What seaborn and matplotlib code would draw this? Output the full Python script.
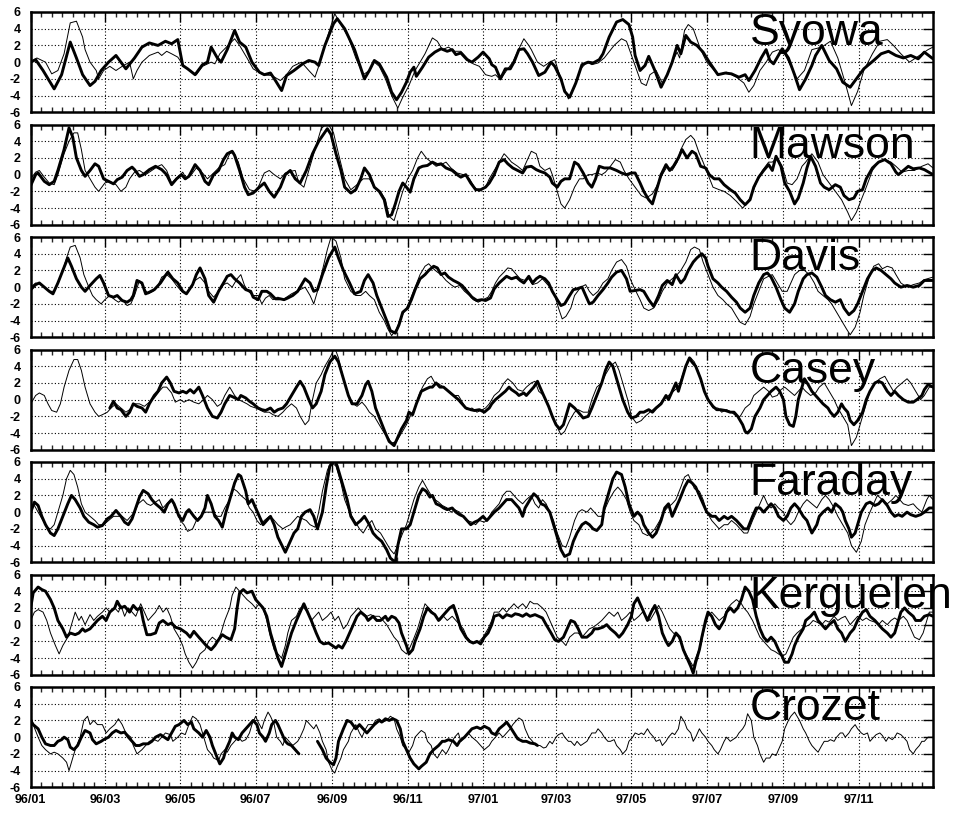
import datetime as dt
import pandas as pd
import matplotlib
matplotlib.use("Agg")
import matplotlib.pyplot as plt
import seaborn as sns

# stations, top to bottom
stations = ["Syowa", "Mawson", "Davis", "Casey", "Faraday", "Kerguelen", "Crozet"]

# x labels every second month
tick_labels = ["96/01", "96/03", "96/05", "96/07", "96/09", "96/11",
               "97/01", "97/03", "97/05", "97/07", "97/09", "97/11"]
y_ticks = [-6, -4, -2, 0, 2, 4, 6]

# (day since 1996-01-01, value)
syowa_thin = [(0,0.0),(5,0.5),(12,0.0),(17,-1.4),(22,-1.0),(27,1.0),(32,4.7),(37,4.9),(42,3.0),(44,1.5),(48,0.0),(53,-1.0),(55,-2.0),(59,-1.0),(64,-0.5),(69,-1.0),(74,-0.5),(80,0.0),(83,-2.0),(86,-1.0),(90,0.0),(96,0.8),(103,1.2),(106,0.8),(110,1.3),(114,1.0),(119,0.6),(124,-0.5),(129,-1.0),(134,-1.5),(139,-0.5),(146,0.0),(149,-0.2),(153,1.0),(165,2.8),(169,2.0),(175,0.5),(180,-0.8),(188,-1.5),(195,-1.6),(202,-2.2),(207,-1.5),(212,-0.5),(219,0.0),(225,-1.0),(230,-1.8),(233,-0.5),(240,3.0),(246,5.8),(249,5.0),(257,3.0),(263,0.5),(269,-1.5),(274,-1.0),(278,0.0),(282,-0.5),(287,-2.0),(292,-4.0),(297,-5.5),(301,-4.2),(306,-2.8),(311,-1.0),(319,1.0),(325,2.9),(329,2.5),(333,1.5),(338,1.8),(343,1.3),(348,1.3),(353,0.5),(358,-0.2),(363,-0.5),(368,-1.5),(373,-1.7),(376,-1.5),(380,-2.1),(385,-1.0),(390,0.0),(395,1.6),(399,2.8),(403,2.0),(405,1.5),(410,0.0),(415,-0.5),(420,0.0),(424,0.3),(430,-2.5),(435,-4.4),(440,-3.0),(445,-0.8),(450,0.0),(454,-0.3),(459,-0.1),(464,0.5),(472,2.0),(478,2.8),(482,2.5),(488,0.0),(494,-2.5),(498,-2.8),(501,-1.5),(506,-1.0),(511,-2.5),(515,-1.5),(519,0.0),(523,1.2),(525,0.5),(529,3.8),(532,4.5),(536,4.0),(542,1.5),(547,0.0),(556,-1.5),(563,-1.2),(571,-1.8),(577,-2.5),(581,-3.6),(585,-2.8),(590,-1.0),(595,0.0),(600,1.2),(605,1.5),(610,1.0),(615,-0.5),(620,-2.0),(626,-1.0),(632,1.5),(640,1.8),(647,2.5),(653,0.5),(659,-2.5),(664,-5.2),(669,-3.5),(674,-1.0),(681,1.0),(687,2.5),(693,2.7),(698,2.0),(704,1.0),(711,0.0),(716,0.5),(721,1.0),(726,1.5),(730,1.8)]
syowa_thick = [(0,0.0),(4,0.3),(10,-1.0),(19,-3.2),(25,-1.5),(32,2.4),(37,0.5),(42,-1.5),(48,-2.8),(52,-2.3),(57,-1.0),(63,0.0),(69,0.8),(77,-0.8),(84,0.5),(90,1.8),(96,2.3),(103,2.0),(109,2.5),(114,2.2),(119,2.7),(123,-0.4),(127,-0.8),(133,-1.5),(139,-0.3),(143,0.0),(146,1.8),(151,0.5),(154,0.0),(159,1.5),(165,3.8),(169,2.4),(174,1.8),(179,0.0),(185,-1.2),(189,-1.5),(194,-1.3),(198,-2.2),(203,-3.4),(207,-1.6),(213,-1.0),(220,-0.2),(225,0.2),(230,0.0),(233,-0.4),(238,2.0),(245,4.6),(248,5.2),(254,4.0),(262,1.5),(267,-0.7),(270,-2.0),(274,-1.0),(278,0.2),(282,-0.2),(288,-1.8),(292,-3.6),(296,-4.5),(300,-3.6),(304,-2.4),(307,-1.2),(310,-0.6),(312,-1.7),(317,-0.6),(322,0.6),(327,1.2),(332,1.6),(337,1.3),(341,1.5),(344,0.9),(348,1.1),(353,0.3),(357,0.0),(362,0.6),(366,1.2),(371,0.4),(373,-0.3),(376,-0.6),(380,-2.0),(384,-0.8),(388,-0.8),(391,0.0),(395,1.5),(399,1.6),(402,1.0),(406,0.0),(411,-1.6),(416,-1.2),(421,0.0),(424,-0.5),(429,-2.0),(432,-3.5),(436,-4.2),(441,-2.5),(446,-0.3),(451,0.0),(455,-0.1),(460,0.3),(463,1.0),(468,3.0),(474,4.8),(479,5.1),(484,4.5),(487,3.0),(489,0.8),(493,-1.0),(497,-0.4),(500,0.7),(505,-1.0),(510,-3.0),(515,-1.5),(519,0.0),(523,2.0),(526,1.0),(530,3.2),(534,2.4),(539,2.0),(544,1.2),(549,0.0),(556,-1.5),(562,-1.3),(567,-1.4),(573,-1.8),(578,-1.5),(581,-2.2),(586,-1.0),(591,0.5),(595,1.5),(598,0.2),(601,-0.2),(608,1.6),(613,0.5),(618,-1.5),(622,-3.3),(627,-2.0),(632,-0.4),(635,0.8),(640,2.0),(646,0.2),(652,-0.8),(657,-2.4),(663,-3.0),(668,-2.0),(674,-0.8),(682,0.2),(688,1.0),(694,1.3),(700,0.8),(706,0.5),(712,0.8),(718,0.4),(723,1.2),(730,0.4)]

mawson_thin = [(0,-0.5),(4,0.3),(7,0.5),(11,-0.3),(15,-1.0),(19,-1.2),(22,0.0),(27,2.5),(31,4.0),(35,5.0),(38,5.0),(41,3.0),(44,0.5),(48,-0.5),(52,-1.5),(55,-2.0),(60,-1.0),(64,-0.8),(69,-1.2),(73,-2.0),(77,-1.5),(80,-0.5),(84,0.3),(88,0.5),(93,0.0),(98,0.5),(103,1.0),(106,1.2),(110,0.5),(114,-1.0),(119,-0.3),(123,0.3),(126,-0.5),(130,0.0),(134,0.8),(139,0.2),(143,-0.5),(148,0.2),(152,0.8),(157,1.2),(161,2.5),(164,2.7),(168,1.5),(172,-0.5),(177,-1.8),(182,-2.0),(185,-1.2),(189,0.2),(193,0.5),(197,0.0),(202,-0.5),(206,0.2),(210,0.4),(214,0.5),(217,-1.0),(221,-1.5),(225,0.5),(230,3.0),(235,5.5),(240,6.2),(245,5.0),(249,2.5),(254,-0.5),(259,-1.8),(264,-1.2),(269,-0.5),(274,-0.5),(278,-1.5),(283,-2.0),(287,-3.0),(290,-5.0),(294,-5.5),(297,-4.0),(301,-2.0),(305,-0.5),(309,0.5),(313,2.0),(316,2.8),(320,2.0),(324,1.5),(328,1.0),(332,1.2),(336,1.5),(340,0.8),(345,0.2),(350,0.0),(355,-0.5),(359,-1.5),(363,-2.0),(368,-1.5),(371,-0.5),(375,0.5),(379,1.5),(383,2.5),(385,2.2),(389,1.5),(394,1.0),(398,0.5),(401,1.5),(405,2.8),(409,2.5),(412,1.0),(416,0.5),(420,0.8),(422,0.0),(426,-2.0),(429,-3.5),(432,-4.0),(436,-3.0),(440,-1.5),(444,-0.5),(447,-0.5),(451,0.0),(454,0.0),(458,0.2),(462,0.0),(465,0.3),(469,1.0),(473,1.8),(477,1.5),(480,0.5),(484,-0.5),(489,-1.5),(494,-2.5),(498,-2.8),(503,-2.3),(506,-1.5),(511,0.0),(515,1.0),(519,0.5),(523,1.5),(526,3.0),(530,4.2),(534,4.7),(537,4.2),(541,2.5),(544,1.5),(548,0.0),(552,-1.5),(557,-1.8),(561,-2.0),(566,-2.5),(571,-3.2),(576,-4.0),(579,-3.5),(583,-2.5),(587,-1.0),(592,0.5),(597,1.5),(600,1.5),(604,2.0),(608,1.0),(612,-1.0),(616,-1.2),(620,-0.5),(624,1.0),(627,1.5),(632,2.5),(637,1.5),(641,0.0),(646,-1.0),(651,-2.0),(656,-3.0),(661,-4.5),(664,-5.5),(668,-4.5),(672,-3.0),(676,-1.5),(681,0.5),(686,1.5),(691,1.8),(696,1.5),(700,1.0),(705,0.3),(710,0.5),(715,0.5),(721,1.0),(726,1.3),(730,0.8)]
mawson_thick = [(0,-1.3),(4,0.0),(6,0.2),(11,-0.8),(15,-1.2),(19,-0.8),(22,0.5),(27,3.0),(31,5.6),(34,4.5),(37,2.0),(41,0.5),(44,-0.2),(48,0.5),(52,1.3),(55,1.0),(59,-0.5),(63,-0.8),(67,-1.1),(70,-0.6),(74,-0.3),(78,0.5),(82,0.9),(84,0.6),(88,-0.2),(91,0.0),(96,0.6),(101,1.0),(106,0.6),(110,0.0),(114,-1.2),(118,-0.5),(122,0.0),(125,-0.5),(128,-0.2),(133,1.2),(137,0.5),(141,-0.8),(144,-1.2),(148,0.0),(152,0.5),(156,1.8),(159,2.5),(163,2.8),(165,2.3),(169,0.5),(173,-1.5),(176,-2.4),(180,-2.2),(185,-1.5),(189,-1.0),(193,-2.0),(197,-2.7),(202,-1.5),(206,0.0),(210,0.5),(214,-0.5),(218,-1.0),(223,0.5),(228,2.5),(233,4.0),(240,5.5),(243,4.8),(247,2.5),(251,0.5),(254,-1.5),(259,-2.2),(263,-1.8),(267,-0.5),(270,0.8),(274,0.0),(278,-1.5),(282,-2.0),(286,-3.0),(289,-5.0),(292,-4.8),(295,-3.5),(298,-2.0),(301,-1.0),(304,-1.5),(307,-2.1),(310,-0.5),(314,0.8),(317,1.0),(321,1.1),(325,1.5),(329,1.2),(332,1.3),(336,0.8),(341,0.5),(345,0.0),(348,-0.3),(352,0.0),(356,-1.0),(360,-1.8),(364,-1.8),(368,-1.5),(371,-1.0),(375,0.0),(379,1.5),(383,1.8),(386,1.3),(390,0.8),(394,0.5),(398,0.2),(401,0.9),(405,1.0),(409,0.6),(412,0.4),(416,0.2),(420,-0.3),(422,-1.0),(426,-1.5),(429,-0.8),(432,-0.5),(436,-0.5),(440,1.5),(443,1.2),(447,0.2),(451,-1.0),(454,-1.5),(457,-0.5),(460,1.0),(464,0.8),(469,0.8),(474,0.5),(478,0.2),(482,0.0),(486,0.2),(489,0.2),(493,-1.0),(496,-2.0),(500,-3.0),(503,-3.5),(506,-2.0),(510,0.0),(514,1.2),(517,0.5),(520,1.0),(524,2.0),(527,3.0),(531,2.0),(535,2.8),(538,2.5),(542,1.0),(546,0.8),(549,0.0),(553,-0.5),(557,-0.5),(561,-1.2),(566,-1.8),(570,-2.2),(574,-3.0),(578,-3.6),(582,-3.0),(585,-1.5),(589,-0.3),(593,0.5),(597,1.2),(600,0.5),(603,2.2),(607,1.0),(610,-1.0),(614,-2.0),(618,-3.5),(621,-2.8),(625,-1.0),(628,0.8),(631,2.2),(635,1.0),(639,-1.0),(642,-1.5),(646,-1.8),(651,-1.2),(655,-1.5),(658,-2.5),(662,-3.0),(666,-2.8),(669,-2.0),(673,-1.8),(676,-0.5),(681,0.8),(686,1.5),(691,1.8),(696,1.3),(700,0.3),(702,0.0),(706,0.5),(710,1.0),(714,0.7),(719,0.8),(723,0.6),(730,0.0)]

davis_thin = [(0,0.0),(4,0.5),(7,0.4),(11,0.0),(15,-0.5),(19,-0.5),(22,0.5),(26,2.0),(29,3.5),(32,4.8),(36,5.0),(40,3.5),(43,1.5),(47,0.0),(50,-1.0),(53,-1.5),(57,-2.0),(60,-1.5),(64,-1.0),(68,-1.5),(71,-1.8),(74,-1.5),(78,-2.2),(81,-2.0),(84,-1.0),(88,0.8),(91,0.0),(95,-0.8),(99,-0.5),(103,0.2),(106,1.2),(110,1.5),(114,1.0),(118,0.2),(122,-0.5),(126,-0.8),(130,0.0),(133,0.8),(137,1.2),(141,0.5),(144,-0.5),(148,-1.2),(152,-0.5),(156,0.3),(159,0.5),(163,0.0),(167,1.0),(170,1.5),(173,0.2),(176,-0.5),(180,-1.0),(184,-1.0),(187,-2.0),(190,-1.3),(193,-1.0),(196,-1.5),(200,-1.2),(204,-1.5),(207,-1.2),(211,-0.8),(215,-0.5),(218,-0.3),(222,0.0),(226,-1.0),(229,-2.0),(232,-0.5),(236,2.0),(240,4.5),(243,6.0),(247,5.5),(251,3.5),(254,1.0),(259,-0.5),(263,-1.0),(267,-1.0),(271,-0.5),(274,-1.0),(278,-1.5),(282,-3.0),(286,-4.0),(289,-5.0),(292,-5.8),(296,-5.0),(300,-3.5),(304,-2.5),(307,-1.5),(311,0.0),(315,1.5),(319,2.5),(322,2.8),(325,2.3),(329,1.8),(332,1.5),(336,0.8),(340,0.3),(343,0.0),(347,0.2),(351,-0.5),(355,-1.0),(358,-1.5),(362,-1.8),(366,-1.5),(370,-1.2),(373,-0.5),(376,0.5),(379,1.2),(383,1.8),(386,2.3),(389,2.2),(393,1.5),(396,1.0),(400,0.8),(403,1.0),(406,0.3),(410,0.5),(414,1.0),(417,0.5),(420,0.0),(424,-1.0),(427,-2.5),(430,-3.8),(433,-3.5),(437,-2.5),(440,-1.0),(445,0.0),(449,0.3),(452,-0.5),(455,-1.0),(459,-0.5),(463,0.5),(467,1.0),(470,2.0),(474,3.0),(478,3.3),(482,2.5),(485,1.0),(489,-0.3),(493,-1.5),(496,-2.5),(500,-2.8),(504,-2.5),(508,-1.5),(511,-0.5),(515,0.5),(519,1.0),(523,1.5),(526,2.0),(530,3.0),(534,4.5),(537,4.8),(541,4.5),(544,3.0),(548,1.5),(552,0.0),(556,-1.0),(560,-1.5),(563,-2.0),(567,-2.5),(571,-3.5),(574,-4.2),(578,-4.5),(582,-3.5),(585,-2.0),(589,-0.5),(593,1.0),(597,1.3),(600,1.5),(604,0.5),(608,-0.5),(612,-0.5),(615,0.5),(618,1.5),(622,2.0),(626,2.0),(630,1.5),(634,0.5),(637,-0.5),(641,-1.0),(645,-1.5),(648,-2.0),(652,-3.0),(656,-4.0),(660,-5.0),(663,-5.7),(667,-4.8),(671,-3.0),(674,-1.0),(678,1.0),(682,2.5),(686,2.8),(689,2.2),(693,2.5),(697,2.3),(700,1.5),(704,0.5),(709,0.0),(714,0.3),(719,0.5),(723,0.9),(730,1.2)]
davis_thick = [(0,-0.3),(4,0.3),(7,0.5),(11,0.0),(15,-0.5),(18,-0.8),(22,0.5),(26,2.0),(30,3.5),(33,2.5),(37,1.0),(41,0.0),(44,-0.5),(48,0.2),(53,1.0),(56,1.4),(59,0.5),(63,-1.0),(67,-1.2),(70,-1.0),(74,-1.6),(78,-1.8),(81,-1.5),(83,-1.0),(86,0.8),(90,0.5),(93,-0.8),(96,-0.6),(100,-0.3),(105,0.5),(109,1.4),(111,1.8),(115,1.0),(119,0.5),(123,-0.5),(126,-0.8),(131,0.3),(134,1.5),(137,2.3),(141,1.0),(144,-1.0),(148,-1.8),(152,-0.5),(156,0.5),(159,1.3),(162,1.5),(165,1.0),(169,0.5),(172,0.0),(174,-0.3),(178,-0.5),(180,-1.2),(184,-1.5),(187,-0.5),(191,-0.5),(194,-0.8),(198,-1.4),(202,-1.4),(205,-1.5),(208,-1.3),(212,-1.0),(216,-0.5),(220,0.5),(222,1.0),(226,0.5),(229,-0.5),(232,-0.3),(236,1.5),(241,3.5),(246,4.8),(249,3.5),(253,2.0),(258,0.5),(262,-0.8),(267,-0.5),(270,0.8),(273,1.5),(277,0.5),(280,-1.0),(284,-2.5),(288,-4.0),(291,-5.2),(295,-5.5),(298,-4.5),(301,-3.0),(305,-2.5),(308,-1.5),(311,-0.3),(315,1.0),(319,1.5),(322,2.0),(326,2.5),(329,2.3),(332,1.5),(335,1.7),(338,1.2),(342,0.8),(346,0.5),(349,0.2),(353,-0.5),(357,-1.2),(361,-1.6),(365,-1.5),(368,-1.6),(372,-1.3),(375,-0.2),(379,0.5),(382,0.9),(385,1.3),(389,1.0),(393,1.2),(396,0.8),(399,0.5),(403,1.3),(406,0.5),(409,1.0),(412,1.3),(416,1.0),(419,0.5),(422,-0.5),(426,-1.5),(429,-2.2),(432,-2.0),(436,-1.0),(439,-0.3),(442,-0.2),(446,0.0),(449,-1.0),(452,-2.0),(455,-1.8),(459,-1.0),(463,-0.3),(467,0.5),(470,1.2),(474,1.8),(478,2.0),(482,1.0),(485,-0.5),(489,-0.4),(493,-0.3),(496,-0.5),(500,-1.5),(504,-2.3),(508,-1.0),(511,0.2),(515,0.8),(519,0.3),(522,1.5),(526,0.5),(529,1.0),(532,2.0),(536,3.0),(539,3.5),(543,4.0),(546,3.5),(548,2.5),(552,1.0),(556,0.5),(559,0.0),(563,-0.5),(567,-1.2),(571,-1.8),(574,-2.5),(578,-3.0),(582,-2.5),(585,-1.0),(589,0.5),(593,1.5),(596,1.7),(599,1.2),(603,0.0),(607,-1.5),(610,-2.5),(614,-3.0),(618,-2.0),(621,-0.5),(625,1.0),(628,1.5),(632,1.7),(636,1.2),(640,0.0),(643,-1.0),(647,-1.5),(651,-1.8),(655,-1.5),(658,-2.5),(662,-3.3),(666,-2.8),(669,-2.0),(673,-0.5),(677,1.0),(681,2.0),(684,2.3),(688,2.0),(692,1.5),(696,1.0),(699,0.5),(704,0.0),(709,0.2),(714,0.0),(719,0.2),(723,0.8),(730,0.8)]

casey_thin = [(0,-0.5),(4,0.5),(7,0.8),(11,0.5),(14,-0.5),(17,-1.3),(21,-1.5),(24,-0.5),(27,1.5),(31,3.5),(35,4.8),(38,4.8),(41,3.5),(44,1.5),(48,-0.5),(52,-1.5),(55,-2.0),(58,-1.8),(62,-1.5),(65,-1.0),(69,-0.5),(73,-1.0),(77,-1.5),(80,-1.2),(84,-0.5),(88,-0.5),(92,-0.8),(96,-0.3),(100,0.2),(104,1.0),(107,1.5),(110,1.5),(114,0.8),(117,-0.3),(121,0.0),(124,-0.3),(128,0.0),(132,-0.3),(136,-0.5),(140,0.0),(143,0.5),(147,0.0),(151,-0.8),(154,-0.5),(157,0.5),(161,1.5),(163,1.0),(165,0.5),(168,0.0),(171,-0.2),(175,-0.5),(178,-0.8),(182,-1.0),(185,-1.2),(189,-1.5),(193,-1.5),(196,-1.8),(200,-2.0),(204,-1.5),(207,-1.0),(211,-0.5),(215,-1.0),(218,-2.0),(222,-3.0),(225,-2.5),(228,0.0),(231,2.0),(235,3.0),(238,4.0),(242,5.0),(246,6.2),(249,5.0),(253,2.5),(257,0.5),(261,-0.5),(264,-0.8),(268,-0.3),(271,-0.8),(274,-1.5),(278,-2.0),(282,-3.0),(286,-4.0),(289,-4.5),(292,-5.2),(296,-5.0),(300,-4.0),(304,-3.0),(307,-2.0),(311,-1.0),(314,0.5),(317,1.5),(321,2.5),(324,2.8),(327,2.0),(331,1.8),(334,1.5),(338,1.0),(342,0.5),(346,0.5),(350,-0.5),(353,-1.2),(357,-1.0),(361,-1.5),(364,-1.3),(368,-1.0),(371,-0.5),(375,0.5),(379,1.0),(383,2.0),(386,2.5),(390,2.0),(394,1.2),(398,1.0),(401,1.5),(405,2.0),(408,2.2),(411,1.0),(415,0.5),(418,-0.5),(421,-1.5),(425,-3.0),(429,-4.2),(432,-3.8),(436,-2.5),(440,-1.5),(443,-1.2),(447,-1.5),(451,-1.5),(454,0.0),(458,1.5),(462,2.0),(465,3.0),(469,4.0),(473,4.5),(476,3.5),(479,2.0),(483,0.0),(486,-2.0),(490,-2.8),(494,-2.5),(497,-2.0),(501,-1.5),(505,-1.0),(509,-0.5),(512,0.0),(516,0.5),(520,1.0),(524,1.5),(527,2.8),(531,4.5),(534,5.0),(537,4.5),(541,3.0),(544,1.5),(548,0.0),(552,-1.0),(556,-1.0),(559,-1.5),(563,-1.2),(567,-1.5),(571,-2.0),(574,-2.0),(578,-1.0),(582,-0.5),(585,0.5),(589,1.0),(593,1.5),(597,1.0),(600,0.3),(604,0.5),(607,1.2),(610,1.5),(614,1.0),(618,0.5),(621,1.0),(624,1.5),(627,1.0),(631,0.5),(635,0.8),(638,1.5),(642,2.0),(646,1.0),(650,0.0),(653,-1.0),(657,-2.0),(661,-3.0),(664,-5.5),(668,-4.5),(672,-2.5),(676,-0.5),(679,1.0),(683,2.0),(687,2.5),(691,2.8),(694,2.0),(698,1.0),(701,1.5),(705,2.0),(709,2.5),(712,2.0),(716,1.0),(720,0.0),(723,0.5),(727,1.5),(730,1.5)]
casey_thick = [(64,-1.0),(67,-0.2),(70,-1.0),(73,-1.2),(77,-2.0),(80,-1.5),(83,-0.5),(86,-0.8),(90,-1.0),(93,-1.5),(96,-0.5),(100,0.5),(103,1.0),(106,2.0),(110,2.7),(113,2.0),(116,1.0),(120,0.8),(123,1.0),(126,0.8),(129,1.2),(132,0.8),(136,1.5),(139,0.5),(143,-1.0),(147,-2.0),(151,-2.2),(154,-1.5),(157,-0.5),(161,0.5),(164,0.3),(168,0.0),(170,0.5),(174,0.2),(177,-0.2),(180,-0.5),(184,-1.0),(187,-1.2),(190,-1.3),(194,-1.0),(197,-1.5),(200,-1.2),(204,-1.0),(207,-0.5),(211,0.5),(215,1.5),(218,2.2),(221,1.5),(225,0.0),(228,-1.0),(231,-0.5),(235,1.0),(238,3.0),(242,4.5),(246,5.2),(249,4.5),(253,2.5),(257,0.5),(260,-0.5),(264,-0.5),(268,0.5),(271,1.8),(273,2.2),(276,1.0),(279,-1.0),(283,-2.5),(287,-4.0),(290,-5.0),(294,-5.5),(297,-4.5),(300,-3.5),(304,-2.5),(306,-1.5),(309,-1.8),(312,-0.5),(316,1.0),(320,1.3),(323,1.5),(325,1.5),(328,2.0),(331,1.5),(334,1.5),(338,1.0),(342,0.5),(346,0.0),(349,-0.5),(352,-1.0),(356,-1.2),(359,-1.3),(363,-1.2),(367,-1.5),(371,-1.0),(373,-0.5),(376,0.0),(380,0.5),(384,1.0),(387,1.5),(389,1.2),(393,0.8),(395,0.5),(399,0.8),(401,0.5),(404,1.0),(407,1.5),(410,2.2),(412,1.5),(415,0.5),(419,-0.8),(422,-2.0),(425,-3.0),(428,-3.5),(431,-3.0),(434,-1.5),(436,-0.5),(440,-1.0),(443,-1.5),(447,-2.2),(451,-2.0),(454,-1.0),(458,0.5),(462,2.0),(465,3.5),(468,4.5),(471,4.0),(473,3.0),(476,1.5),(479,0.0),(483,-1.5),(486,-2.2),(490,-2.0),(493,-1.5),(496,-1.5),(500,-1.2),(503,-1.5),(506,-1.0),(510,-0.5),(514,0.5),(516,0.0),(519,1.0),(522,2.0),(524,1.0),(526,2.0),(530,4.0),(533,5.0),(535,4.5),(538,4.0),(542,2.5),(545,1.0),(548,0.0),(552,-0.8),(555,-1.2),(558,-1.2),(562,-1.3),(566,-1.5),(569,-1.5),(572,-2.0),(576,-3.0),(578,-3.8),(580,-4.0),(583,-3.5),(586,-2.0),(590,-1.0),(593,0.0),(596,0.5),(599,1.0),(603,1.5),(606,1.0),(609,0.0),(611,-2.0),(614,-3.0),(617,-3.2),(619,-2.0),(621,0.0),(624,1.5),(626,2.5),(629,1.8),(632,1.0),(635,0.5),(638,0.0),(641,-0.5),(645,-1.0),(647,-1.5),(650,-2.0),(653,-1.5),(656,-0.5),(658,-1.0),(661,-1.5),(663,-2.5),(666,-3.0),(669,-2.5),(673,-1.5),(676,0.0),(679,1.0),(683,2.0),(686,2.2),(689,2.0),(693,1.0),(696,0.5),(699,1.0),(702,0.5),(706,0.0),(710,-0.3),(714,-0.3),(717,0.0),(721,0.5),(723,1.2),(726,1.8),(730,1.5)]

faraday_thin = [(0,0.5),(3,0.8),(6,0.0),(10,-1.0),(13,-1.8),(16,-2.0),(19,-1.5),(22,0.0),(26,2.0),(29,4.0),(32,5.0),(35,4.5),(38,3.0),(41,1.0),(44,0.0),(48,-0.5),(52,-1.0),(55,-1.5),(59,-1.5),(63,-1.0),(67,-0.5),(70,-0.5),(74,-0.5),(78,-1.0),(81,-0.5),(84,0.0),(87,1.0),(91,1.5),(94,1.0),(97,0.8),(101,1.2),(104,1.5),(107,0.5),(110,1.0),(114,1.5),(117,0.5),(121,-1.0),(124,-1.5),(127,-2.3),(131,-2.0),(134,-1.0),(137,-0.5),(141,0.0),(144,0.0),(147,0.0),(151,-0.5),(154,-0.5),(157,0.5),(161,1.5),(164,2.8),(167,2.5),(170,2.0),(174,1.5),(177,0.5),(180,0.0),(183,-1.0),(186,-1.5),(189,-1.0),(193,-0.5),(196,-0.8),(200,-1.5),(204,-2.0),(206,-1.8),(210,-1.5),(213,-1.0),(216,-0.5),(220,-0.8),(223,-1.0),(226,-1.5),(230,-1.8),(233,0.0),(236,2.5),(240,5.0),(243,6.0),(247,5.5),(251,3.5),(254,1.5),(258,0.0),(262,-1.0),(266,-2.0),(269,-2.5),(273,-1.5),(276,-1.0),(279,-2.0),(283,-2.5),(287,-3.5),(291,-4.5),(294,-5.0),(297,-4.0),(301,-2.5),(304,-1.5),(307,0.0),(310,1.5),(314,3.0),(317,3.8),(320,3.0),(324,2.0),(327,1.5),(330,1.2),(333,0.8),(337,0.5),(340,0.0),(343,0.3),(347,0.0),(350,-0.5),(353,-1.0),(357,-1.2),(360,-1.5),(363,-1.0),(367,-1.2),(370,-0.8),(373,0.0),(376,0.5),(379,1.0),(382,2.0),(385,2.5),(388,2.5),(391,2.0),(394,1.5),(398,1.0),(401,1.5),(405,2.0),(408,1.0),(411,0.5),(414,1.5),(417,1.0),(420,0.0),(423,-1.0),(426,-2.5),(430,-4.0),(433,-4.2),(436,-3.0),(440,-1.0),(443,0.0),(446,0.3),(450,0.0),(453,0.5),(456,0.0),(459,-0.5),(462,-0.5),(465,0.5),(468,1.5),(472,2.5),(475,3.0),(478,2.5),(482,1.5),(485,0.0),(488,-1.0),(492,-1.5),(495,-2.5),(499,-2.8),(502,-2.5),(505,-2.0),(509,-1.0),(512,0.0),(515,0.5),(519,1.0),(522,1.5),(526,3.0),(529,4.2),(532,4.5),(535,3.5),(537,2.8),(541,2.5),(544,1.5),(547,0.0),(551,-1.0),(554,-1.5),(557,-2.0),(561,-1.5),(564,-1.5),(567,-1.0),(571,-1.5),(574,-2.0),(577,-2.5),(580,-2.5),(584,-1.0),(587,0.0),(590,1.0),(593,2.0),(596,1.0),(599,0.5),(602,1.0),(605,0.5),(609,0.0),(612,-1.0),(615,-1.5),(618,-1.0),(621,0.0),(625,1.0),(628,1.5),(632,1.0),(636,0.5),(640,1.5),(643,2.0),(646,1.5),(650,0.5),(653,-0.5),(657,-1.5),(661,-2.5),(664,-4.0),(668,-4.8),(672,-3.5),(675,-1.5),(679,0.0),(682,1.0),(685,2.0),(689,1.5),(693,1.0),(697,1.5),(700,2.0),(703,1.5),(706,1.0),(710,0.8),(714,1.0),(717,0.5),(721,0.0),(725,1.5),(727,2.0),(730,1.5)]
faraday_thick = [(0,0.0),(3,1.2),(6,0.8),(9,-0.5),(12,-1.5),(16,-2.5),(19,-2.8),(22,-2.0),(26,-0.5),(30,1.0),(33,2.0),(36,1.5),(40,0.5),(43,-0.5),(47,-1.2),(51,-1.5),(54,-1.8),(58,-1.6),(62,-0.8),(65,-0.5),(69,0.2),(73,-0.5),(76,-1.2),(79,-1.5),(82,-0.8),(85,0.5),(88,1.8),(91,2.6),(95,2.2),(98,1.5),(101,1.0),(105,0.5),(108,0.0),(111,1.0),(114,1.5),(116,1.0),(120,-0.5),(123,-1.0),(126,0.0),(128,0.3),(132,-0.5),(135,-1.0),(138,-0.5),(141,0.5),(143,2.0),(146,1.0),(149,-0.5),(152,-1.0),(155,-1.8),(158,0.0),(162,2.0),(165,3.5),(168,4.5),(170,4.3),(174,2.5),(176,1.0),(179,1.5),(182,0.5),(185,-0.5),(188,-1.5),(191,-1.0),(194,-0.5),(197,-1.5),(200,-3.0),(204,-4.2),(206,-4.8),(210,-3.5),(213,-2.5),(216,-2.0),(219,-0.5),(222,0.0),(226,0.3),(229,-0.5),(232,-2.0),(236,0.0),(239,3.0),(242,5.5),(246,6.2),(248,5.5),(252,3.5),(256,1.5),(259,-0.5),(263,-1.5),(267,-1.0),(270,-0.5),(274,-1.5),(277,-2.5),(280,-3.0),(284,-3.5),(288,-4.5),(291,-5.5),(295,-6.0),(297,-4.0),(300,-2.0),(304,-2.0),(307,-1.5),(310,0.0),(314,2.0),(317,2.8),(320,2.5),(323,1.8),(325,2.0),(328,1.0),(331,0.8),(334,0.5),(337,0.3),(341,0.5),(344,0.0),(347,-0.3),(350,-0.5),(353,-1.0),(356,-1.5),(359,-1.2),(362,-1.0),(366,-0.5),(369,-1.0),(372,-0.5),(375,0.0),(379,0.5),(382,1.0),(385,1.5),(389,1.5),(392,1.0),(395,0.5),(398,-0.5),(400,0.5),(404,1.5),(407,2.2),(410,1.8),(413,1.0),(416,0.8),(420,0.0),(423,-1.5),(426,-3.0),(429,-4.5),(432,-5.3),(436,-5.0),(439,-3.5),(442,-2.5),(446,-1.5),(449,-1.2),(452,-1.5),(455,-2.0),(458,-2.2),(462,-1.5),(464,0.5),(468,2.5),(471,4.0),(474,4.8),(478,4.5),(481,3.0),(484,1.0),(488,-0.5),(491,0.0),(494,-0.5),(496,-1.5),(500,-2.5),(503,-3.0),(506,-2.5),(510,-1.0),(513,0.5),(516,1.0),(519,-0.5),(522,0.5),(525,1.5),(529,3.0),(532,3.8),(535,3.5),(538,3.0),(541,2.0),(544,1.0),(547,0.0),(551,-0.5),(554,-0.5),(557,-1.0),(561,-0.5),(564,-0.8),(567,-0.5),(571,-1.0),(574,-1.5),(577,-2.0),(580,-2.0),(584,-0.5),(587,0.5),(590,0.5),(593,0.0),(596,0.5),(599,1.0),(602,0.5),(605,-0.5),(609,-1.0),(612,-0.5),(615,0.5),(618,1.0),(621,0.5),(625,-0.5),(628,-1.0),(632,-2.5),(636,-1.5),(638,-0.5),(641,0.0),(645,0.5),(648,0.0),(651,1.0),(655,0.5),(657,0.0),(659,-1.0),(662,-2.0),(664,-3.0),(667,-2.5),(669,-1.5),(672,0.0),(676,1.0),(679,1.2),(683,0.8),(686,1.0),(689,1.5),(693,0.8),(696,0.0),(699,-0.5),(702,-0.3),(705,-0.5),(709,0.0),(712,-0.3),(716,-0.5),(720,-0.3),(723,0.0),(727,0.5),(730,0.5)]

kerguelen_thin = [(0,0.5),(3,1.5),(6,1.8),(10,1.5),(13,0.5),(16,-1.0),(20,-2.5),(23,-3.5),(26,-2.5),(30,-1.5),(33,0.0),(36,1.5),(39,0.5),(41,1.0),(44,0.0),(48,1.2),(51,0.5),(54,1.0),(58,1.5),(61,2.0),(64,1.5),(68,2.0),(71,1.5),(73,2.3),(76,1.0),(79,2.0),(82,1.5),(85,1.0),(89,2.5),(92,1.5),(95,0.5),(98,1.0),(101,1.5),(104,2.3),(107,1.5),(110,2.0),(113,1.0),(116,-0.5),(120,-1.5),(123,-2.5),(125,-3.5),(128,-4.5),(131,-5.2),(134,-4.5),(137,-3.5),(141,-3.0),(144,-2.0),(147,-1.5),(151,-2.0),(154,-1.0),(157,0.5),(161,2.0),(163,3.5),(166,4.5),(169,4.0),(172,3.5),(175,3.0),(179,2.5),(182,2.0),(185,2.5),(188,2.0),(191,0.5),(194,-1.5),(197,-3.0),(200,-3.5),(203,-4.0),(206,-2.5),(208,-1.0),(211,0.5),(215,1.0),(218,2.0),(221,2.0),(224,1.5),(227,0.5),(230,1.0),(233,1.5),(236,0.5),(240,1.0),(243,1.5),(246,0.5),(249,1.0),(253,-0.5),(256,0.0),(259,1.0),(262,1.5),(265,2.0),(268,1.5),(272,1.0),(275,1.2),(278,1.0),(282,1.0),(285,0.5),(288,0.0),(290,-0.5),(294,-1.5),(297,-2.0),(300,-3.0),(304,-3.5),(306,-3.0),(309,-2.0),(313,-0.5),(316,1.0),(319,2.5),(322,2.0),(325,1.5),(328,1.0),(331,0.5),(334,1.0),(337,0.5),(341,1.0),(344,0.5),(347,0.0),(350,-0.5),(353,-1.5),(356,-2.0),(360,-2.2),(363,-2.0),(366,-1.5),(370,-0.5),(373,0.5),(375,1.5),(379,1.5),(382,2.0),(385,1.5),(388,2.0),(391,2.5),(394,2.0),(398,2.5),(401,2.0),(404,2.8),(407,2.5),(410,2.5),(414,2.0),(417,1.5),(420,0.5),(423,-0.5),(426,-1.5),(430,-2.0),(433,-2.5),(436,-1.5),(440,-1.0),(443,-1.0),(446,-1.5),(449,-1.0),(452,-0.5),(455,-0.3),(458,0.0),(462,0.5),(465,1.0),(468,1.5),(472,1.0),(475,1.5),(478,0.5),(482,1.0),(485,1.5),(488,0.5),(492,1.0),(495,1.5),(498,1.0),(501,0.5),(505,1.5),(508,2.3),(511,1.5),(514,0.5),(517,-0.5),(520,-1.0),(524,-1.5),(527,-2.5),(530,-3.5),(534,-4.5),(536,-5.0),(538,-4.0),(542,-2.5),(545,-0.5),(548,1.0),(551,1.5),(554,1.0),(557,0.5),(561,1.0),(564,2.0),(567,2.5),(571,3.0),(575,2.5),(577,2.0),(580,1.5),(584,0.5),(587,-0.5),(590,-1.5),(593,-2.0),(596,-2.5),(599,-3.0),(602,-3.2),(605,-3.5),(608,-3.8),(611,-3.5),(614,-2.5),(617,-1.5),(620,-1.0),(624,-0.5),(626,-0.3),(630,0.0),(633,0.5),(636,0.3),(640,0.0),(643,0.5),(646,0.3),(650,1.0),(653,0.5),(656,0.8),(659,1.0),(663,0.0),(666,0.5),(669,1.0),(673,0.5),(676,0.8),(679,0.5),(683,0.3),(686,0.0),(689,0.5),(693,0.0),(696,0.5),(699,0.8),(702,0.5),(706,1.0),(709,0.5),(712,-0.5),(715,-1.5),(719,-1.8),(722,-1.0),(725,0.5),(727,1.5),(730,1.5)]
kerguelen_thick = [(0,2.0),(2,3.8),(6,4.5),(9,4.2),(12,4.0),(16,3.0),(19,2.0),(22,0.5),(26,-0.5),(29,-1.5),(32,-1.0),(36,-1.2),(39,-1.0),(42,-0.5),(44,-0.8),(48,-0.5),(51,0.0),(54,0.5),(58,1.0),(61,0.5),(64,1.5),(68,2.0),(70,2.8),(73,2.0),(76,2.2),(80,1.5),(83,2.3),(86,1.8),(89,2.0),(91,0.5),(94,-1.2),(97,-1.2),(101,-1.0),(104,0.2),(107,0.5),(111,0.0),(114,0.2),(117,-0.3),(121,-0.5),(124,-0.8),(126,-1.0),(129,-1.5),(132,-0.8),(136,-1.5),(139,-2.0),(142,-2.5),(146,-3.0),(149,-2.5),(152,-1.8),(155,-1.2),(158,-1.5),(162,-1.8),(165,-0.5),(167,2.0),(169,3.8),(172,4.2),(175,3.8),(179,4.0),(182,3.0),(185,2.5),(188,2.0),(191,1.0),(194,-1.0),(197,-2.5),(200,-4.0),(203,-5.0),(205,-4.0),(208,-2.5),(211,-1.0),(215,0.5),(218,1.5),(221,2.5),(224,1.5),(227,0.5),(231,-1.0),(234,-2.0),(237,-2.3),(241,-2.2),(244,-2.5),(247,-2.8),(249,-2.5),(252,-2.8),(255,-2.0),(258,-1.0),(261,0.0),(264,1.0),(267,1.5),(271,1.0),(273,0.5),(277,1.0),(280,0.5),(283,0.5),(287,1.0),(289,0.5),(292,1.0),(295,0.8),(298,0.2),(300,-1.0),(304,-2.5),(306,-3.5),(309,-3.0),(311,-2.0),(315,-0.5),(318,1.0),(321,2.0),(324,1.5),(327,1.2),(330,0.5),(333,1.0),(336,1.5),(339,2.0),(342,2.3),(345,1.0),(348,-0.5),(352,-1.5),(355,-2.0),(358,-2.2),(361,-2.0),(364,-2.3),(367,-1.5),(370,-1.0),(373,0.0),(375,1.0),(379,1.2),(382,0.8),(385,1.2),(389,1.0),(392,1.3),(395,1.2),(398,1.0),(401,1.3),(404,1.0),(408,1.2),(411,1.0),(414,0.8),(417,0.0),(421,-1.0),(424,-1.8),(427,-2.0),(431,-1.5),(434,-0.5),(437,0.5),(440,0.3),(443,-0.5),(446,-1.5),(450,-1.5),(454,-1.0),(456,-0.5),(459,-0.5),(463,-0.3),(466,0.0),(469,-0.5),(473,-1.0),(476,-1.5),(479,-1.0),(483,0.0),(486,1.0),(488,2.5),(491,3.2),(493,2.5),(496,1.5),(499,0.5),(502,1.5),(505,2.3),(508,1.0),(511,-1.0),(514,-2.0),(516,-2.5),(519,-2.0),(522,-1.0),(525,-1.5),(528,-3.0),(531,-4.0),(534,-5.0),(536,-5.8),(538,-4.5),(541,-3.0),(543,-1.5),(546,0.5),(548,1.5),(551,1.0),(554,0.0),(557,-0.5),(561,0.5),(563,1.5),(566,2.0),(569,1.5),(572,2.0),(575,3.0),(578,4.5),(581,4.0),(584,3.0),(587,1.0),(590,-0.5),(593,-1.5),(596,-2.0),(599,-1.5),(602,-2.0),(605,-3.0),(608,-3.8),(610,-4.5),(613,-4.5),(616,-3.5),(618,-2.5),(621,-1.5),(625,-0.5),(627,0.5),(631,1.0),(634,1.5),(637,0.5),(640,0.0),(643,-0.5),(646,0.0),(650,0.5),(653,-0.5),(656,-1.0),(659,-2.0),(663,-1.0),(666,-0.5),(669,0.5),(673,1.5),(676,1.8),(679,1.0),(683,0.5),(686,0.0),(689,-0.5),(693,-1.0),(696,-1.5),(699,-1.0),(701,0.0),(704,1.5),(707,2.0),(710,1.5),(714,1.0),(716,0.5),(720,0.5),(723,1.0),(727,1.2),(730,1.0)]

crozet_thin = [(0,2.5),(2,1.5),(6,0.0),(9,-1.0),(12,-1.5),(16,-2.0),(19,-1.8),(22,-2.0),(26,-2.5),(29,-3.0),(31,-4.0),(34,-2.5),(36,-1.5),(40,0.0),(43,2.0),(46,2.5),(48,1.5),(51,2.0),(54,1.5),(58,1.5),(61,0.5),(64,1.0),(68,1.5),(71,2.2),(74,1.5),(77,0.5),(81,0.0),(83,-1.0),(86,-2.0),(90,-1.5),(93,-1.0),(96,-0.5),(100,-0.3),(103,-0.5),(106,0.0),(109,0.5),(113,0.3),(115,-0.5),(119,0.0),(122,0.5),(125,0.3),(128,1.5),(131,2.5),(134,2.2),(137,1.5),(140,0.0),(143,-1.5),(146,-2.0),(148,-2.5),(152,-2.8),(154,-2.0),(157,-1.5),(159,-1.8),(162,-1.0),(165,-0.5),(168,0.0),(171,-0.5),(174,-0.3),(177,0.5),(179,1.5),(182,2.5),(184,1.8),(187,1.0),(189,2.0),(192,3.0),(194,2.5),(197,1.5),(199,0.0),(202,-0.5),(204,-1.0),(206,0.0),(209,-0.5),(212,-1.0),(216,-0.5),(218,0.0),(221,1.0),(223,2.0),(226,1.5),(229,1.0),(231,1.5),(234,0.5),(236,-0.5),(239,-1.5),(241,-3.0),(244,-4.0),(246,-4.3),(248,-3.5),(251,-2.5),(253,-1.5),(257,-0.5),(259,0.5),(263,1.5),(266,0.5),(268,0.0),(271,1.0),(273,1.5),(277,1.5),(279,2.0),(282,2.2),(285,1.8),(288,2.0),(291,2.5),(294,2.2),(296,1.0),(299,0.0),(301,-1.0),(304,-1.5),(306,-1.8),(309,-1.0),(311,0.0),(314,0.5),(316,0.8),(319,0.5),(321,-0.5),(324,-1.0),(326,-2.0),(329,-2.5),(331,-2.0),(333,-1.5),(336,-2.0),(338,-1.5),(341,-0.5),(343,0.0),(346,0.5),(348,-0.5),(351,0.0),(354,0.5),(357,0.0),(361,-0.5),(364,-1.0),(367,-1.5),(371,-1.0),(373,-0.5),(376,0.0),(379,0.5),(382,0.0),(385,0.5),(388,1.0),(390,1.5),(393,2.0),(395,2.3),(398,2.0),(400,1.0),(403,0.0),(406,-0.5),(409,-1.0),(412,-1.0),(415,-1.3),(417,-1.2),(420,-0.5),(422,-0.8),(425,0.0),(427,0.3),(430,0.5),(432,0.0),(435,-0.5),(437,-0.5),(440,-1.0),(442,-0.5),(445,-1.0),(447,-0.8),(450,-0.5),(452,0.0),(454,0.5),(457,0.5),(459,1.0),(462,0.5),(464,0.0),(467,-0.5),(469,-0.5),(472,-0.3),(474,-1.0),(477,-1.5),(479,-2.0),(482,-1.5),(484,-0.5),(487,0.0),(489,0.5),(492,0.3),(494,0.5),(496,0.3),(499,1.0),(501,0.5),(504,0.0),(506,-0.5),(509,-0.3),(511,-1.0),(514,-0.5),(516,0.0),(519,0.5),(521,0.3),(524,1.0),(526,2.5),(529,1.8),(531,1.0),(534,0.5),(536,-0.5),(538,0.0),(541,1.0),(543,0.5),(546,0.0),(548,-0.5),(551,-1.0),(553,-1.5),(556,-2.0),(558,-1.5),(561,-0.5),(563,0.0),(566,-0.5),(568,-0.3),(571,0.0),(573,0.5),(576,1.0),(578,1.5),(580,2.8),(583,2.0),(585,0.0),(588,-1.0),(590,-2.0),(593,-3.0),(595,-2.5),(598,-2.5),(600,-2.0),(603,-2.2),(605,-1.5),(608,-0.5),(610,1.0),(613,2.0),(615,2.5),(618,3.0),(620,2.5),(622,2.0),(625,1.0),(627,0.5),(630,-0.5),(632,-1.0),(635,-1.5),(637,-1.8),(640,-1.0),(642,-0.5),(645,-0.5),(647,-0.3),(650,-0.5),(652,0.0),(655,0.5),(657,0.5),(659,0.0),(662,0.5),(664,1.0),(667,1.5),(669,1.0),(672,0.5),(674,0.3),(677,0.5),(679,-0.5),(682,0.0),(684,0.3),(687,0.5),(689,0.2),(692,-0.5),(694,0.0),(697,-0.3),(699,0.0),(701,0.5),(704,0.3),(706,0.0),(709,-0.5),(711,-1.5),(714,-2.0),(716,-1.5),(719,-1.0),(721,-0.5),(723,-0.5),(726,0.0),(730,0.0)]
# the thick Crozet record has a gap in August 1996 and stops in February 1997
crozet_thick_a = [(0,2.0),(2,1.5),(6,1.0),(9,0.0),(12,-0.8),(16,-1.0),(19,-1.0),(22,-0.5),(25,-0.3),(27,0.0),(30,-0.3),(32,-1.2),(35,-1.5),(38,-1.0),(41,0.0),(44,0.8),(48,0.5),(50,-0.3),(53,-0.8),(57,-0.5),(59,-0.3),(63,0.0),(66,0.5),(69,0.8),(73,0.5),(76,0.6),(79,0.0),(82,-0.5),(85,-1.0),(88,-1.0),(91,-0.8),(95,-0.8),(98,-0.5),(101,0.0),(105,0.3),(108,0.0),(111,-0.3),(114,0.5),(117,1.3),(120,1.5),(124,2.0),(127,1.5),(130,1.8),(132,1.0),(136,0.5),(139,0.0),(142,0.8),(145,0.0),(147,-1.0),(151,-2.5),(153,-3.2),(156,-2.5),(158,-1.5),(161,-0.5),(163,0.5),(165,0.0),(168,-0.3),(171,0.5),(174,1.0),(177,1.5),(180,2.0),(183,1.5),(185,0.5),(188,0.0),(190,-0.5),(193,0.5),(195,1.5),(198,2.0),(200,1.5),(203,0.5),(206,-0.5),(208,-0.8),(211,-1.0),(214,-1.5),(217,-2.0)]
crozet_thick_b = [(232,-0.5),(236,-1.5),(239,-2.5),(242,-3.0),(245,-3.3),(247,-2.5),(249,-0.5),(253,1.0),(256,2.0),(259,1.8),(263,1.0),(266,1.5),(269,1.0),(272,0.5),(275,1.0),(278,1.5),(282,2.0),(284,1.8),(287,2.2),(290,2.0),(293,2.2),(296,2.0),(299,1.0),(301,-0.5),(304,-1.5),(307,-2.5),(310,-3.2),(314,-3.8),(316,-3.5),(320,-3.0),(323,-2.0),(326,-1.5),(330,-1.0),(333,-0.5),(335,-0.5),(338,-0.3),(342,-0.5),(345,-1.0),(347,-0.5),(351,0.0),(354,0.5),(357,1.0),(361,1.2),(364,1.0),(367,1.3),(371,1.0),(373,0.5),(376,0.3),(379,1.0),(383,1.5),(385,1.8),(388,1.2),(391,0.5),(394,-0.2),(398,-0.5),(401,-0.5),(404,-0.7),(408,-0.8),(410,-1.0)]

thin_series = [syowa_thin, mawson_thin, davis_thin, casey_thin,
               faraday_thin, kerguelen_thin, crozet_thin]
thick_series = [[syowa_thick], [mawson_thick], [davis_thick], [casey_thick],
                [faraday_thick], [kerguelen_thick], [crozet_thick_a, crozet_thick_b]]

# tick positions in days since 96/01/01
start = dt.date(1996, 1, 1)
tick_days = [(dt.date(1900 + int(s[:2]), int(s[3:]), 1) - start).days for s in tick_labels]
x_end = (dt.date(1997, 12, 31) - start).days
edges = tick_days + [x_end]
minor_days = []
for a, b in zip(edges[:-1], edges[1:]):
    minor_days += [a + (b - a) * k / 7 for k in range(1, 7)]

sns.set_theme(style="white")
plt.rcParams["font.family"] = ["Liberation Sans", "DejaVu Sans"]

W, H = 958, 816
fig = plt.figure(figsize=(W / 100, H / 100), dpi=100)

for i, name in enumerate(stations):
    top = 12 + 112.5 * i
    ax = fig.add_axes([30.7 / W, 1 - (top + 100.3) / H, 902.3 / W, 100.3 / H])

    thin_df = pd.DataFrame(thin_series[i], columns=["day", "value"])
    sns.lineplot(data=thin_df, x="day", y="value", ax=ax, color="black",
                 linewidth=0.7, estimator=None, sort=False, zorder=3)
    for seg in thick_series[i]:
        thick_df = pd.DataFrame(seg, columns=["day", "value"])
        sns.lineplot(data=thick_df, x="day", y="value", ax=ax, color="black",
                     linewidth=2.1, estimator=None, sort=False, zorder=4)

    ax.set_xlim(0, x_end)
    ax.set_ylim(-6, 6)
    ax.set_xlabel("")
    ax.set_ylabel("")

    ax.set_yticks(y_ticks)
    ax.set_yticklabels([str(v) for v in y_ticks], fontweight="bold", fontsize=9)
    ax.set_xticks(tick_days)
    ax.set_xticks(minor_days, minor=True)
    if i == len(stations) - 1:
        ax.set_xticklabels(tick_labels, fontweight="bold", fontsize=9)
    else:
        ax.set_xticklabels([])

    ax.grid(True, which="major", color="black", linewidth=0.8, linestyle=(0, (1, 2)))
    ax.tick_params(axis="both", which="major", direction="in", length=7, width=1,
                   top=True, right=True, colors="black")
    ax.tick_params(axis="x", which="minor", direction="in", length=3.5, width=1,
                   top=True, bottom=True)
    ax.tick_params(axis="y", pad=7)
    ax.tick_params(axis="x", pad=5)
    for sp in ax.spines.values():
        sp.set_linewidth(1.8)
        sp.set_color("black")

    ax.text(0.797, 0.67, name, transform=ax.transAxes, fontsize=32,
            ha="left", va="baseline", color="black", zorder=5)

fig.savefig("out.png", dpi=100)
